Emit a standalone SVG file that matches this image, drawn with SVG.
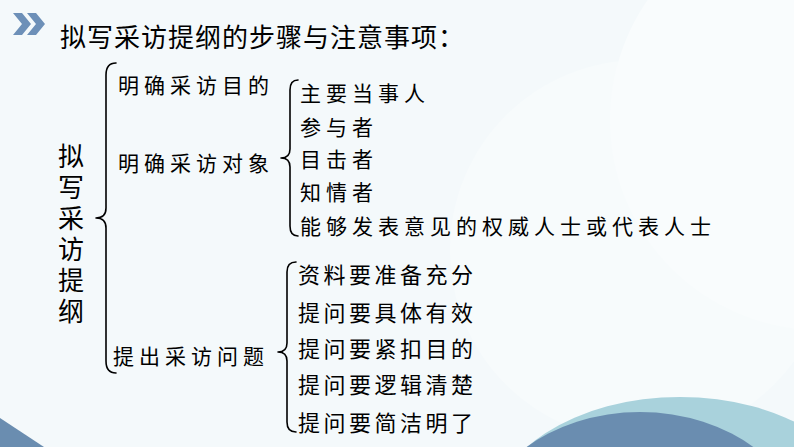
<svg xmlns="http://www.w3.org/2000/svg" width="794" height="447" viewBox="0 0 794 447">
<defs>
<style>
.t{font-family:"Noto Sans CJK SC","Noto Sans CJK JP",sans-serif;fill:#000;}
.title{font-size:26px;letter-spacing:1px;}
.side{font-size:26px;letter-spacing:5px;writing-mode:vertical-rl;}
.l1{font-size:21px;letter-spacing:5px;}
.l2{font-size:21px;letter-spacing:5px;}
.l3{font-size:22px;letter-spacing:3.5px;}
.br{fill:none;stroke:#000;stroke-width:1.6;stroke-linecap:round;stroke-linejoin:round;}
</style>
</defs>
<rect width="794" height="447" fill="#f4f9fb"/>
<circle cx="640" cy="250" r="190" fill="#f7fbfc"/>
<circle cx="820" cy="120" r="210" fill="#f9fcfd"/>
<ellipse cx="680" cy="520" rx="190" ry="123" fill="#a9d2dc"/>
<ellipse cx="640" cy="540" rx="165" ry="128" fill="#6a8db0"/>
<path d="M0,418 L44,447 L0,447 Z" fill="#6a8db0"/>
<g id="chevrons" fill="#6d90b8">
<path d="M13,13 L22,13 L31,24 L22,35 L13,35 L22,24 Z"/>
<path d="M27,13 L36,13 L45,24 L36,35 L27,35 L36,24 Z"/>
</g>
<g id="title"><text class="t title" x="60" y="47">拟写采访提纲的步骤与注意事项：</text></g>
<g id="root"><text class="t side" x="71" y="143">拟写采访提纲</text></g>
<g id="connectors">
<path class="br" d="M116,63 Q106,63 106,75 L106,208 Q106,218 96,218 Q106,218 106,228 L106,361 Q106,373 116,373"/>
<path class="br" d="M298,80 Q290,80 290,90 L290,149 Q290,158 281,158 Q290,158 290,167 L290,226 Q290,236 298,236"/>
<path class="br" d="M296,262 Q287,262 287,272 L287,343 Q287,352 278,352 Q287,352 287,361 L287,422 Q287,432 296,432"/>
</g>
<g id="n-mudi"><text class="t l1" x="118" y="93">明确采访目的</text></g>
<g id="n-duixiang"><text class="t l1" x="118" y="171">明确采访对象</text></g>
<g id="n-wenti"><text class="t l1" x="113" y="364">提出采访问题</text></g>
<g id="list-objects">
<text class="t l2" x="300" y="101">主要当事人</text>
<text class="t l2" x="300" y="135">参与者</text>
<text class="t l2" x="300" y="167">目击者</text>
<text class="t l2" x="300" y="200">知情者</text>
<text class="t l2" x="300" y="234">能够发表意见的权威人士或代表人士</text>
</g>
<g id="list-questions">
<text class="t l3" x="298" y="283">资料要准备充分</text>
<text class="t l3" x="298" y="321">提问要具体有效</text>
<text class="t l3" x="298" y="357">提问要紧扣目的</text>
<text class="t l3" x="298" y="393">提问要逻辑清楚</text>
<text class="t l3" x="298" y="431">提问要简洁明了</text>
</g>
</svg>
